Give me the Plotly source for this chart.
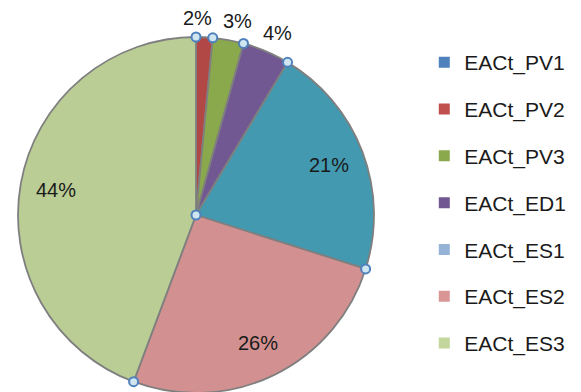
import plotly.graph_objects as go
import math

W, H = 581, 392

labels = ["EACt_PV1", "EACt_PV2", "EACt_PV3", "EACt_ED1", "EACt_ES1", "EACt_ES2", "EACt_ES3"]
values = [0, 1.5, 2.8, 4.3, 21.3, 25.8, 44.3]
slice_colors = ["#4F81BD", "#B24846", "#8AA84C", "#715892", "#4299B0", "#D29190", "#BACD95"]
legend_colors = ["#4F81BD", "#C0504D", "#8AA84C", "#715892", "#95B3D7", "#D99694", "#C3D69B"]

FONT = "Liberation Sans"
TXT = "#1a1a1a"

# pie geometry (layout, in figure pixels)
cx, cy, r = 188, 207, 178
inside_k, outside_k = 0.8, 1.11
label_sep = 40  # minimum horizontal spacing between outside labels

fig = go.Figure()
fig.add_trace(go.Pie(
    labels=labels, values=values, sort=False, direction="clockwise", rotation=0,
    marker=dict(colors=slice_colors, line=dict(color="#7f7f7f", width=1.8)),
    textinfo="none", showlegend=False, hoverinfo="label+percent",
    domain=dict(x=[(cx - r) / W, (cx + r) / W], y=[(H - cy - r) / H, (H - cy + r) / H]),
))

total = sum(values)

# data labels at each slice's mid-angle, derived from the data
inside, outside = [], []
cum = 0
for v in values:
    if v > 0:
        mid = 2 * math.pi * (cum + v / 2) / total
        txt = f"{round(100 * v / total)}%"
        if v / total > 0.1:
            inside.append([cx + inside_k * r * math.sin(mid), cy - inside_k * r * math.cos(mid), txt])
        else:
            outside.append([cx + outside_k * r * math.sin(mid), cy - outside_k * r * math.cos(mid), txt])
    cum += v

# simple collision avoidance for the outside labels
outside.sort(key=lambda p: p[0])
for _ in range(10):
    for a, b in zip(outside, outside[1:]):
        d = label_sep - (b[0] - a[0])
        if d > 0:
            a[0] -= d / 2
            b[0] += d / 2

annotations = []
for px, py, txt in inside + outside:
    annotations.append(dict(
        x=px, y=py, xref="x", yref="y", text=txt, showarrow=False,
        xanchor="center", yanchor="middle",
        font=dict(family=FONT, size=20, color=TXT),
    ))

# selection handles at slice boundaries and the centre, derived from the data
pts = [(cx, cy)]
cum = 0
seen = set()
for v in values:
    key = round(cum / total, 6)
    if key not in seen:
        seen.add(key)
        ang = 2 * math.pi * cum / total
        pts.append((cx + r * math.sin(ang), cy - r * math.cos(ang)))
    cum += v
shapes = []
hr = 4.5
for px, py in pts:
    shapes.append(dict(
        type="circle", xref="x", yref="y", layer="above",
        x0=px - hr, x1=px + hr, y0=py - hr, y1=py + hr,
        fillcolor="#CFE6F0", line=dict(color="#4F81BD", width=2),
    ))

# legend entries
for lab, col in zip(labels, legend_colors):
    fig.add_trace(go.Scatter(
        x=[None], y=[None], mode="markers", name=lab, legendgroup=lab,
        marker=dict(symbol="square", size=11, color=col),
    ))

fig.update_layout(
    width=W, height=H, margin=dict(l=0, r=0, t=0, b=0),
    paper_bgcolor="white", plot_bgcolor="rgba(0,0,0,0)",
    xaxis=dict(range=[0, W], visible=False, fixedrange=True),
    yaxis=dict(range=[H, 0], visible=False, fixedrange=True),
    legend=dict(x=0.7165, y=0.913, xanchor="left", yanchor="top",
                font=dict(family=FONT, size=21, color=TXT),
                traceorder="grouped", tracegroupgap=16.5, itemwidth=30),
    annotations=annotations, shapes=shapes,
    font=dict(family=FONT),
)

fig.write_html("out.html")
